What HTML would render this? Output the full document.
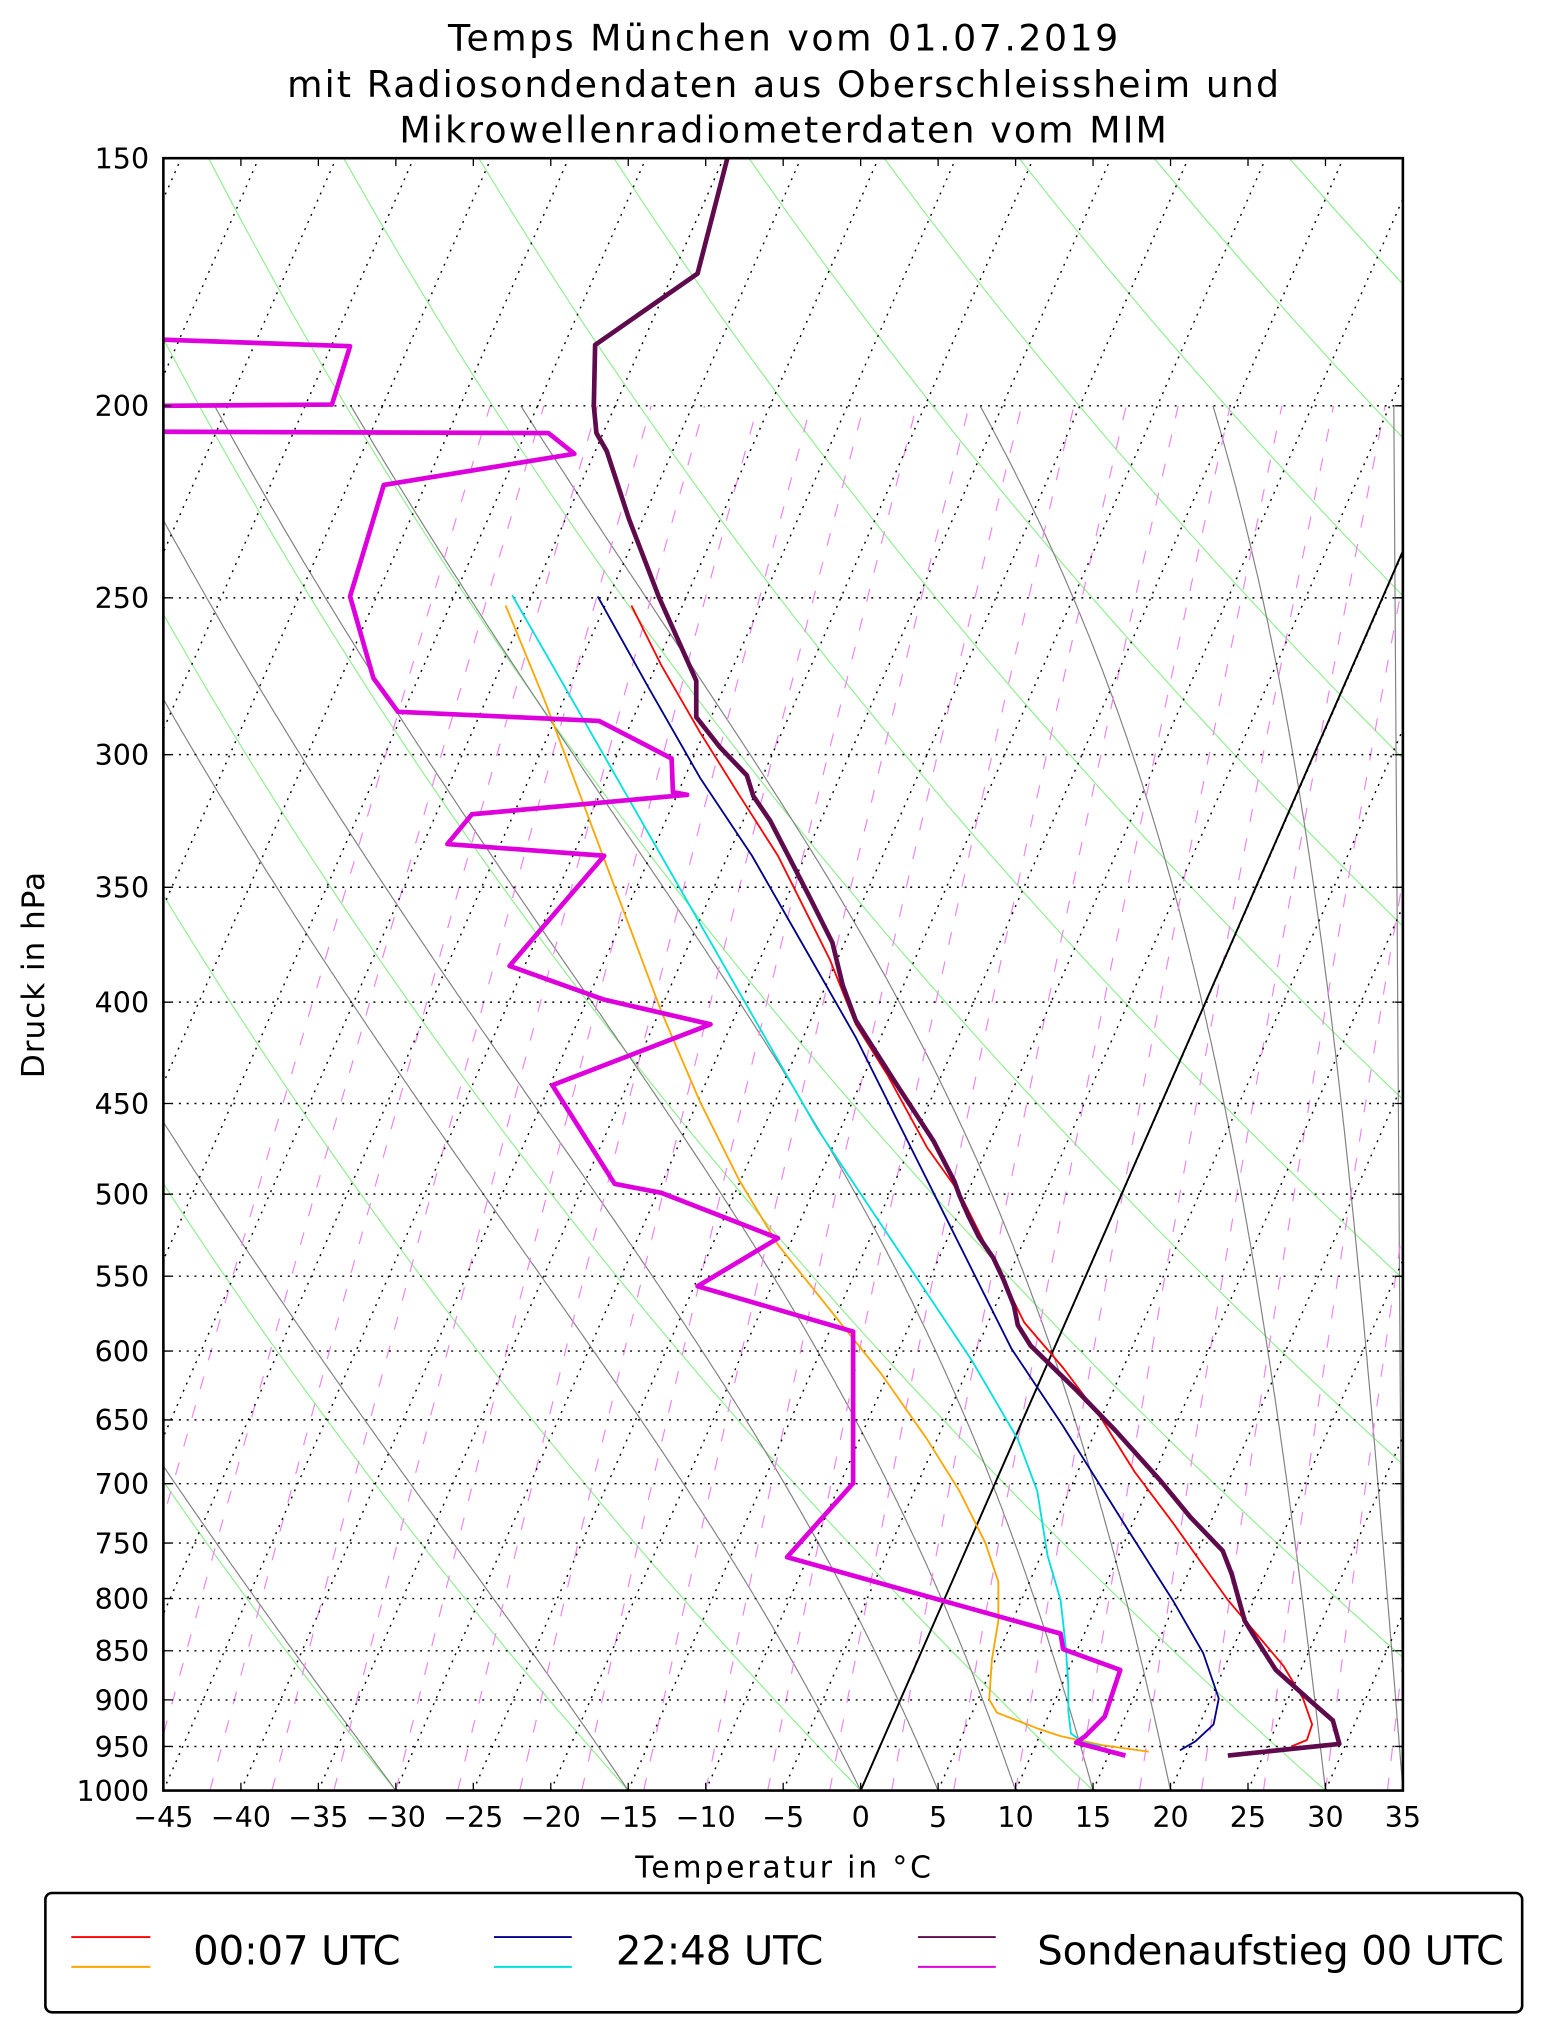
<!DOCTYPE html>
<html><head><meta charset="utf-8">
<style>
html,body{margin:0;padding:0;background:#fff;}
svg{display:block;}
text{font-family:"DejaVu Sans","Liberation Sans",sans-serif;fill:#000;}
</style></head>
<body>
<svg id="s" width="1542" height="2032" viewBox="0 0 1189.3 1567.2" xmlns="http://www.w3.org/2000/svg">
<defs><clipPath id="ax"><rect x="126" y="122" width="956" height="1259"/></clipPath></defs>
<rect width="1189.3" height="1567.2" fill="#fff"/>
<g id="bg" clip-path="url(#ax)"></g>
<g clip-path="url(#ax)" fill="none" stroke-linejoin="round">
<line x1="663.8" y1="1381" x2="1082" y2="425" stroke="#000" stroke-width="1.5"/>
<polyline stroke="#ffa500" stroke-width="1.4" points="390,467 420,540 450,620 480,700 510,780 540,850 570,910 600,960 640,1010 680,1060 715,1110 740,1150 760,1190 770,1220 770,1250 765,1280 763,1311 769,1321 800,1333 818,1339 850,1346 886,1351"/>
<polyline stroke="#00e0e0" stroke-width="1.4" points="395,459 430,520 470,590 510,660 550,730 590,800 630,870 670,930 710,990 750,1050 785,1110 800,1150 808,1200 818,1234 822,1270 824,1300 824,1320 826,1337 836,1344 849,1347"/>
<polyline stroke="#00008b" stroke-width="1.4" points="461,460 500,530 540,600 580,660 620,730 660,800 700,880 740,960 780,1040 820,1100 870,1180 905,1235 928,1275 940,1310 936,1330 922,1343 910,1350"/>
<polyline stroke="#ff0000" stroke-width="1.4" points="487,467 510,513 540,565 570,613 600,660 640,740 660,790 685,830 715,885 740,920 770,980 790,1020 820,1055 850,1095 875,1135 905,1175 947,1234 990,1285 1005,1310 1012,1330 1008,1342 996,1347"/>
<polyline stroke="#dd00dd" stroke-width="3.6" points="126,262 270,267 256,312 126,313"/>
<polyline stroke="#dd00dd" stroke-width="3.6" points="126,333 423,334 443,350 296,374 270,460 288,523 307,549 462,556 518,585 519,611 530,613 364,628 345,651 466,660 393,745 466,771 548,790 426,837 474,913 510,920 600,955 538,992 658,1027 658,1144 607,1201 818,1260 820,1272 864,1288 852,1324 837,1339 830,1344 868,1354"/>
<polyline stroke="#5e0a4c" stroke-width="3.6" points="561,122 538,211 459,266 458,313 460,334 468,348 485,400 508,460 537,525 537,553 555,576 576,598 581,614 594,633 608,660 625,693 642,727 650,760 660,787 690,834 720,880 736,911 740,922 747,938 755,954 766,970 774,987 782,1007 785,1022 795,1038 830,1072 860,1103 895,1142 918,1170 943,1196 950,1214 960,1250 968,1263 984,1288 1012,1313 1028,1327 1033,1345 947,1354"/>
</g>
<g id="ticks" stroke="#000" stroke-width="1"></g>
<rect x="126" y="122" width="956" height="1259" fill="none" stroke="#000" stroke-width="2"/>
<g id="labels" font-size="22"></g>
<text x="604" y="39" font-size="28" text-anchor="middle" textLength="517">Temps München vom 01.07.2019</text>
<text x="604" y="75" font-size="28" text-anchor="middle" textLength="765">mit Radiosondendaten aus Oberschleissheim und</text>
<text x="604" y="110" font-size="28" text-anchor="middle" textLength="592">Mikrowellenradiometerdaten vom MIM</text>
<text x="604" y="1448" font-size="23" text-anchor="middle" textLength="228">Temperatur in °C</text>
<text transform="translate(34,752) rotate(-90)" font-size="24" text-anchor="middle" textLength="159">Druck in hPa</text>
<rect x="35" y="1460" width="1139" height="92" rx="5" fill="#fff" stroke="#000" stroke-width="2"/>
<line x1="55" y1="1494" x2="116" y2="1494" stroke="#ff0000" stroke-width="1.5"/>
<line x1="55" y1="1517" x2="116" y2="1517" stroke="#ffa500" stroke-width="1.5"/>
<text x="149" y="1515" font-size="31" textLength="160">00:07 UTC</text>
<line x1="381" y1="1494" x2="441" y2="1494" stroke="#00008b" stroke-width="1.5"/>
<line x1="381" y1="1517" x2="441" y2="1517" stroke="#00e0e0" stroke-width="1.5"/>
<text x="475" y="1515" font-size="31" textLength="160">22:48 UTC</text>
<line x1="708" y1="1494" x2="768" y2="1494" stroke="#5e0a4c" stroke-width="1.5"/>
<line x1="708" y1="1517" x2="768" y2="1517" stroke="#dd00dd" stroke-width="1.5"/>
<text x="800" y="1515" font-size="31" textLength="360">Sondenaufstieg 00 UTC</text>
<script>
(function(){
var NS="http://www.w3.org/2000/svg";
function Y(p){return 1381-1528*Math.log10(1000/p);}
function X(T,p){return 663.8+11.95*T+0.438*(1381-Y(p));}
var bg=document.getElementById('bg');
function pl(pts,attrs){var e=document.createElementNS(NS,'polyline');e.setAttribute('points',pts.map(function(a){return a[0].toFixed(1)+','+a[1].toFixed(1);}).join(' '));e.setAttribute('fill','none');for(var k in attrs)e.setAttribute(k,attrs[k]);bg.appendChild(e);}
var ps=[];for(var p=1000;p>=150;p-=10)ps.push(p);
for(var t0=-165;t0<=200;t0+=15){var th=t0+273.15;var pts=ps.map(function(p){var T=th*Math.pow(p/1000,0.286)-273.15;return [X(T,p),Y(p)];});pl(pts,{stroke:'#90ee90','stroke-width':'0.9'});}
function es(T){return 6.112*Math.exp(17.67*T/(T+243.5));}
[-30,-15,0,5,10,15,20,30,35].forEach(function(t0){var T=t0+273.15,p=1000,pts=[[X(t0,1000),Y(1000)]];while(p>200){var dp=-2;var e=es(T-273.15);var rs=0.622*e/(p-e);var Lv=2.5e6,Rd=287,Cp=1005;var dTdp=(Rd*T+Lv*rs)/(p*(Cp+Lv*Lv*rs*0.622/(Rd*T*T)));T+=dTdp*dp;p+=dp;pts.push([X(T-273.15,p),Y(p)]);}pl(pts,{stroke:'#808080','stroke-width':'0.9'});});
pl([[1075,Y(200)],[1078,Y(400)],[1082,Y(1000)]],{stroke:'#808080','stroke-width':'0.9'});
for(var td=-50;td<=42;td+=4){var e0=es(td);var w=0.622*e0/(1000-e0);var pts=[];for(var p=1000;p>=200;p-=20){var e=w*p/(0.622+w);var l=Math.log(e/6.112);var T=243.5*l/(17.67-l);pts.push([X(T,p),Y(p)]);}pl(pts,{stroke:'#ee82ee','stroke-width':'0.9','stroke-dasharray':'10,13'});}
for(var T=-140;T<=35;T+=5){pl([[X(T,1000),Y(1000)],[X(T,150),Y(150)]],{stroke:'#000','stroke-width':'1.1','stroke-dasharray':'1.5,4.5'});}
var plev=[150,200,250,300,350,400,450,500,550,600,650,700,750,800,850,900,950,1000];
plev.forEach(function(p){if(p>150&&p<1000)pl([[126,Y(p)],[1082,Y(p)]],{stroke:'#000','stroke-width':'1.1','stroke-dasharray':'1.5,4.5'});});
var tk=document.getElementById('ticks'),lb=document.getElementById('labels');
plev.forEach(function(p){var y=Y(p);var l=document.createElementNS(NS,'path');l.setAttribute('d','M126,'+y+'h6M1082,'+y+'h-6');tk.appendChild(l);var t=document.createElementNS(NS,'text');t.setAttribute('x','115');t.setAttribute('y',(y+8).toFixed(1));t.setAttribute('text-anchor','end');t.textContent=p;lb.appendChild(t);});
for(var T=-45;T<=35;T+=5){var x=663.8+11.95*T;var l=document.createElementNS(NS,'path');l.setAttribute('d','M'+x+',1381v-6M'+x+',122v6');tk.appendChild(l);var t=document.createElementNS(NS,'text');t.setAttribute('x',x.toFixed(1));t.setAttribute('y','1409');t.setAttribute('text-anchor','middle');t.textContent=(T<0?'\u2212'+(-T):''+T);lb.appendChild(t);}
})();
</script>
</svg>
</body></html>
